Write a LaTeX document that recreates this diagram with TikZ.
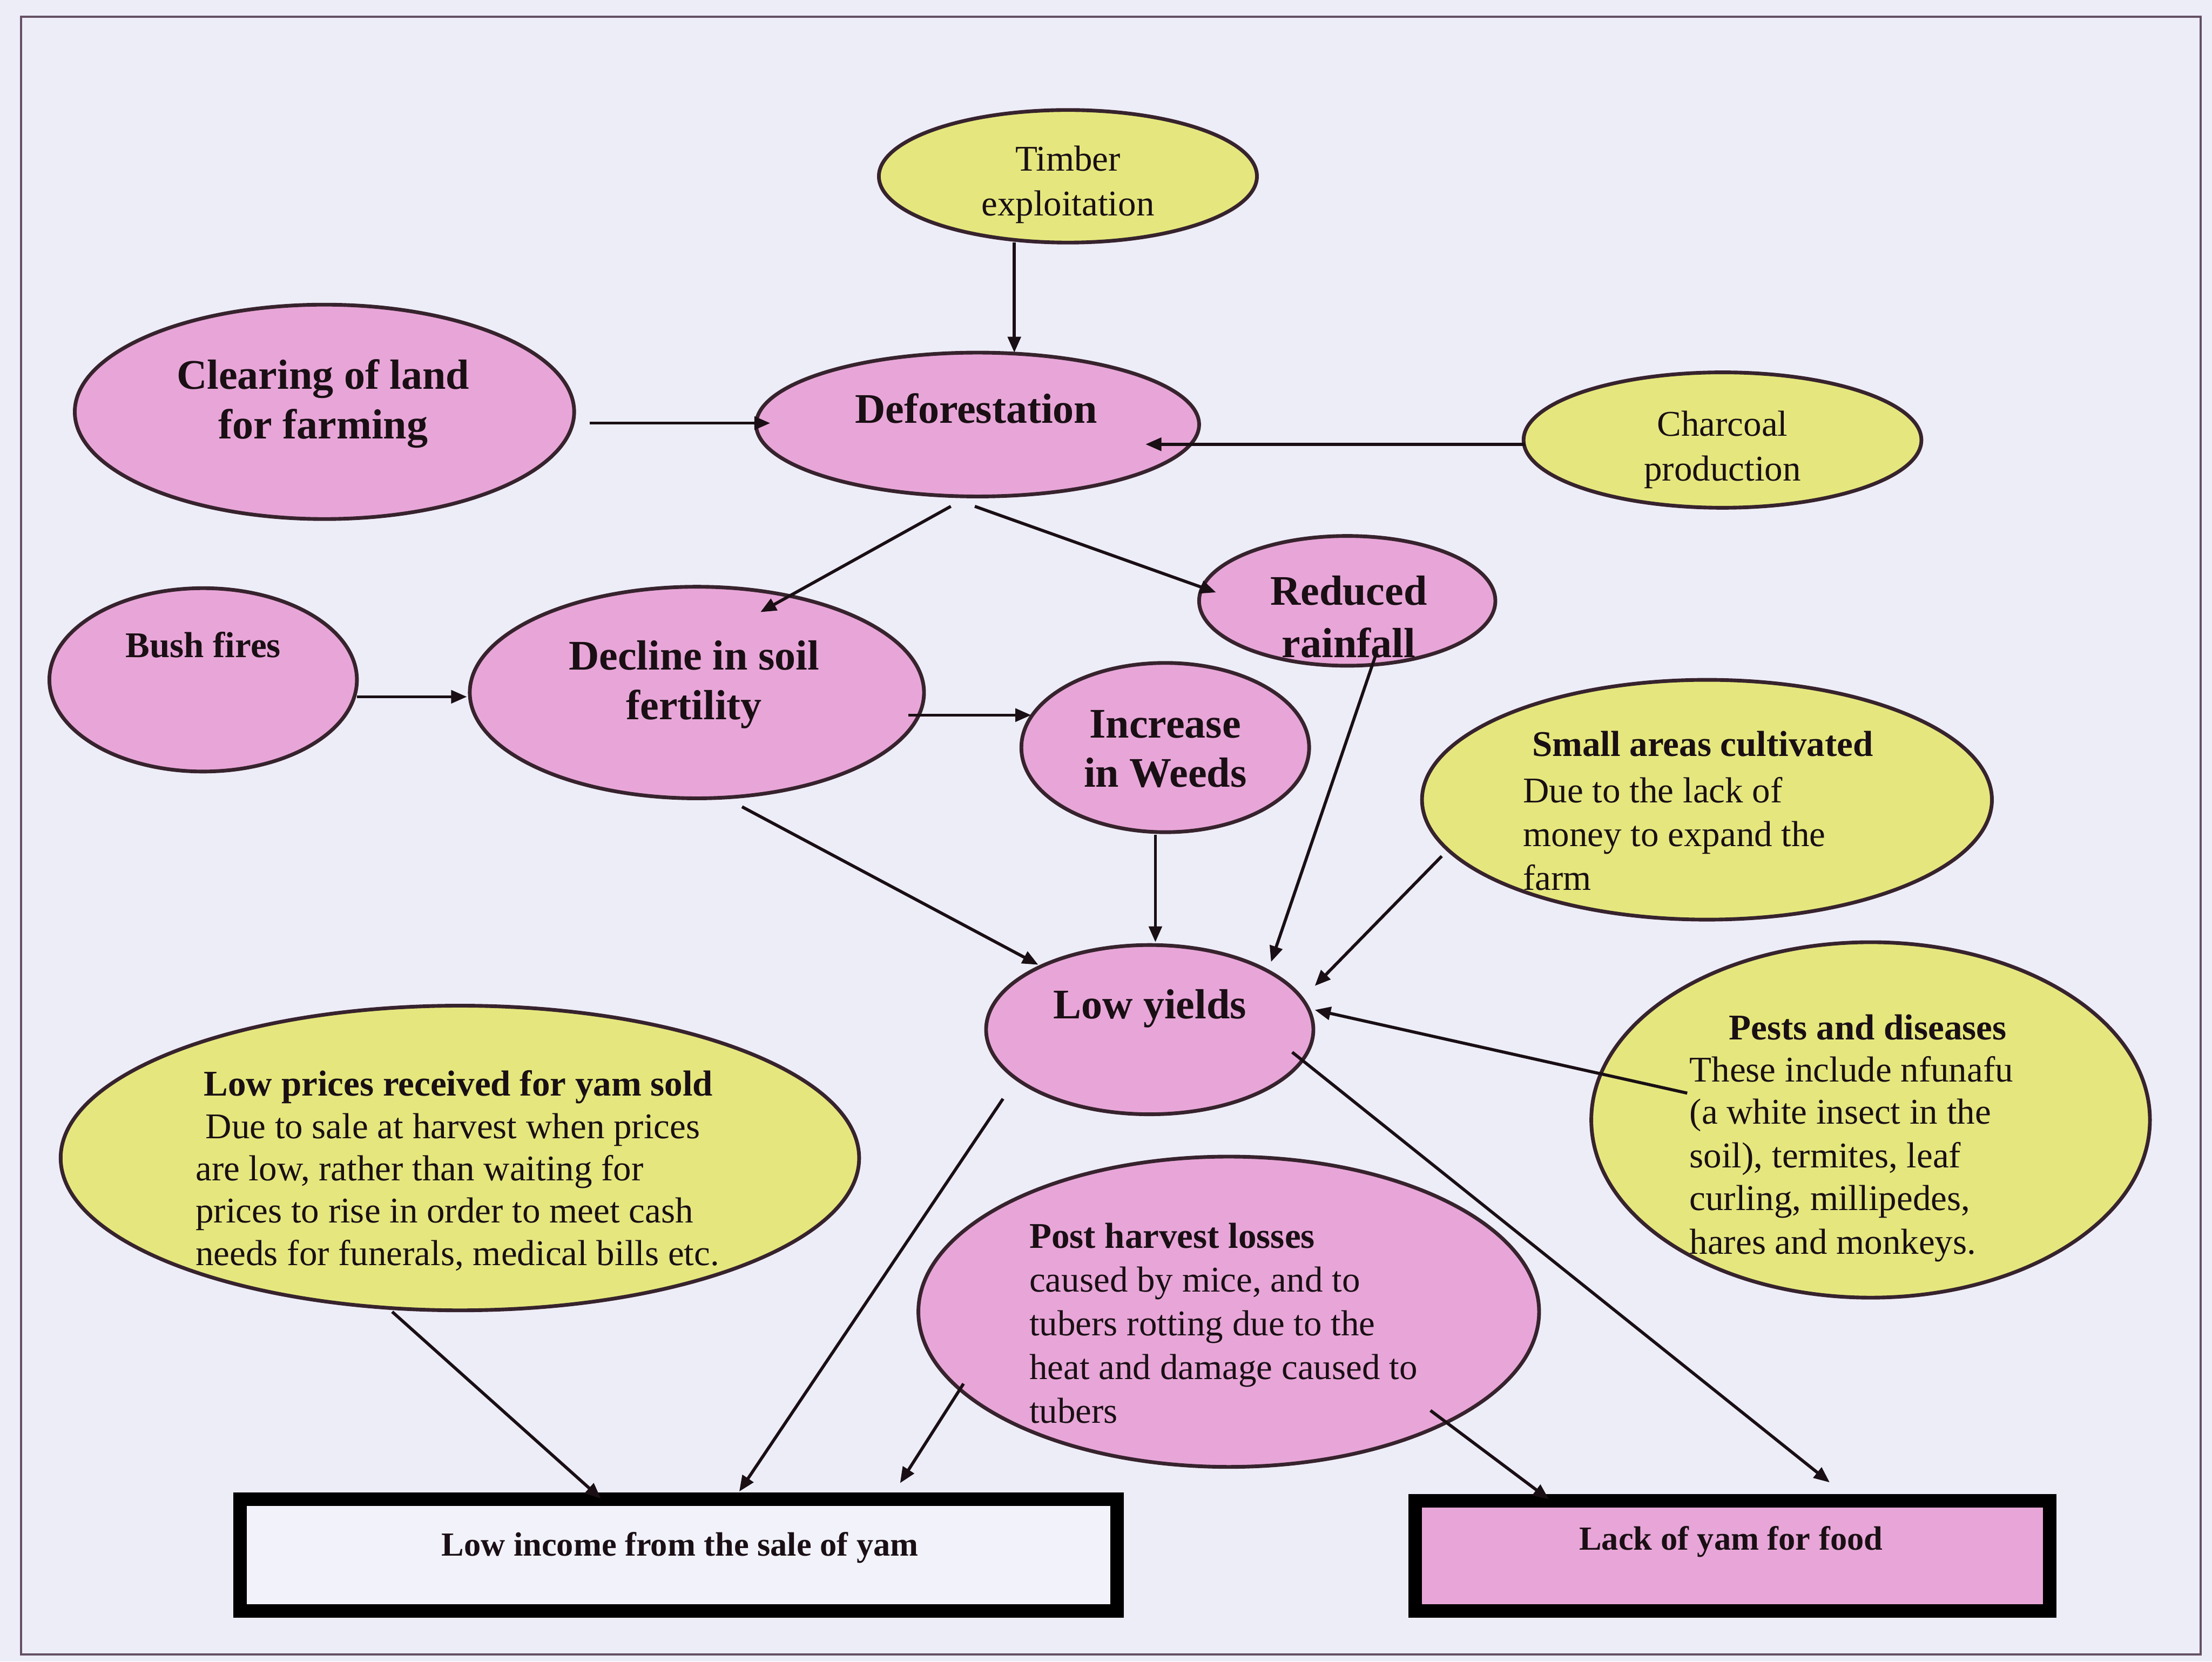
\documentclass[tikz,border=0pt]{standalone}
\usepackage{fontspec}
\setmainfont{Liberation Serif}
\usetikzlibrary{shapes.geometric,arrows.meta}

\definecolor{paper}{RGB}{237,237,248}
\definecolor{pinkfill}{RGB}{232,166,216}
\definecolor{yellowfill}{RGB}{229,231,126}
\definecolor{edge}{RGB}{55,35,45}
\definecolor{ink}{RGB}{25,15,20}
\definecolor{framecol}{RGB}{100,80,100}
\definecolor{boxwhite}{RGB}{242,242,250}

\tikzset{
  oval/.style 2 args={ellipse, draw=edge, line width=0.75pt, inner sep=0pt,
    minimum width=#1, minimum height=#2},
  pinkoval/.style 2 args={oval={#1}{#2}, fill=pinkfill},
  yellowoval/.style 2 args={oval={#1}{#2}, fill=yellowfill},
  outcome/.style 2 args={rectangle, draw=black, line width=0.95mm, inner sep=0pt,
    minimum width=#1, minimum height=#2},
  txt/.style={inner sep=0pt, text=ink},
  link/.style={draw=ink, line width=0.62pt, -{Triangle[length=3.2pt,width=2.6pt]}},
  bigb/.style={font=\fontsize{8.5}{10}\selectfont\bfseries},
  smallb/.style={font=\fontsize{7.3}{8.8}\selectfont\bfseries},
  smallr/.style={font=\fontsize{7.3}{8.8}\selectfont},
  boxb/.style={font=\fontsize{6.8}{8}\selectfont\bfseries},
}

\begin{document}
\begin{tikzpicture}[x=0.1mm,y=-0.1mm]
% page and frame
\fill[paper] (0,0) rectangle (1568,1178);
\useasboundingbox (0,0) rectangle (1568,1178);
\draw[framecol, line width=0.15mm] (15,12) rectangle (1560,1173);

% causes and effects
\node[yellowoval={26.8mm}{9.4mm}] (tim) at (757,125) {};
\node[pinkoval={35.4mm}{15.2mm}] (clr) at (230,292) {};
\node[pinkoval={31.4mm}{10.2mm}] (def) at (693,301) {};
\node[yellowoval={28.2mm}{9.6mm}] (chr) at (1221,312) {};
\node[pinkoval={21.0mm}{9.2mm}] (rain) at (955,426) {};
\node[pinkoval={21.8mm}{13.0mm}] (bush) at (144,482) {};
\node[pinkoval={32.2mm}{15.0mm}] (dec) at (494,491) {};
\node[pinkoval={20.4mm}{12.0mm}] (wee) at (826,530) {};
\node[yellowoval={40.4mm}{17.0mm}] (sma) at (1210,567) {};
\node[pinkoval={23.2mm}{12.0mm}] (low) at (815,730) {};
\node[yellowoval={39.6mm}{25.2mm}] (pst) at (1326,794) {};
\node[yellowoval={56.6mm}{21.6mm}] (prc) at (326,821) {};
\node[pinkoval={44.0mm}{22.0mm}] (post) at (871,930) {};

% final outcomes
\node[outcome={62.2mm}{7.9mm}, fill=boxwhite] (inc) at (481,1102.5) {};
\node[outcome={45.0mm}{7.8mm}, fill=pinkfill] (lack) at (1228,1103) {};

% connectors
\draw[link] ([shift={(-38,47)}]tim.center) -- ([shift={(26,-51)}]def.center);
\draw[link] ([shift={(188,8)}]clr.center) -- ([shift={(-147,-1)}]def.center);
\draw[link] ([shift={(-140,3)}]chr.center) -- ([shift={(119,14)}]def.center);
\draw[link] ([shift={(-19,58)}]def.center) -- ([shift={(45,-57)}]dec.center);
\draw[link] ([shift={(-2,58)}]def.center) -- ([shift={(-93,-6)}]rain.center);
\draw[link] ([shift={(109,12)}]bush.center) -- ([shift={(-163,3)}]dec.center);
\draw[link] ([shift={(150,16)}]dec.center) -- ([shift={(-95,-23)}]wee.center);
\draw[link] ([shift={(32,81)}]dec.center) -- ([shift={(-79,-46)}]low.center);
\draw[link] ([shift={(-7,62)}]wee.center) -- ([shift={(4,-62)}]low.center);
\draw[link] ([shift={(20,39)}]rain.center) -- ([shift={(86,-48)}]low.center);
\draw[link] ([shift={(-188,40)}]sma.center) -- ([shift={(117,-31)}]low.center);
\draw[link] ([shift={(-130,-19)}]pst.center) -- ([shift={(117,-14)}]low.center);
\draw[link] ([shift={(101,16)}]low.center) -- ([shift={(69,-52)}]lack.center);
\draw[link] ([shift={(-104,49)}]low.center) -- ([shift={(43,-45)}]inc.center);
\draw[link] ([shift={(-48,109)}]prc.center) -- ([shift={(-55,-40)}]inc.center);
\draw[link] ([shift={(-188,51)}]post.center) -- ([shift={(157,-51)}]inc.center);
\draw[link] ([shift={(143,70)}]post.center) -- ([shift={(-130,-40)}]lack.center);

% labels
\node[txt,smallr,anchor=base] (timA) at (757,121) {Timber};
\node[txt,smallr,anchor=base] (timB) at (757,153) {exploitation};

\node[txt,bigb,anchor=base] (clrA) at (229,276) {Clearing of land};
\node[txt,bigb,anchor=base] (clrB) at (229,311) {for farming};

\node[txt,bigb,anchor=base] (defA) at (692,300) {Deforestation};

\node[txt,smallr,anchor=base] (chrA) at (1221,309) {Charcoal};
\node[txt,smallr,anchor=base] (chrB) at (1221,341) {production};

\node[txt,bigb,anchor=base] (rainA) at (956,429) {Reduced};
\node[txt,bigb,anchor=base] (rainB) at (956,466) {rainfall};

\node[txt,smallb,anchor=base] (bushA) at (144,466) {Bush fires};

\node[txt,bigb,anchor=base] (decA) at (492,475) {Decline in soil};
\node[txt,bigb,anchor=base] (decB) at (492,510) {fertility};

\node[txt,bigb,anchor=base] (weeA) at (826,523) {Increase};
\node[txt,bigb,anchor=base] (weeB) at (826,558) {in Weeds};

\node[txt,smallb,anchor=base] (smaA) at (1207,536) {Small areas cultivated};
\node[txt,smallr,anchor=base west] (smaB) at (1079,569) {Due to the lack of};
\node[txt,smallr,anchor=base west] (smaC) at (1079,600) {money to expand the};
\node[txt,smallr,anchor=base west] (smaD) at (1079,631) {farm};

\node[txt,bigb,anchor=base] (lowA) at (815,722) {Low yields};

\node[txt,smallb,anchor=base] (pstA) at (1324,737) {Pests and diseases};
\node[txt,smallr,anchor=base west] (pstB) at (1197,767) {These include nfunafu};
\node[txt,smallr,anchor=base west] (pstC) at (1197,797) {(a white insect in the};
\node[txt,smallr,anchor=base west] (pstD) at (1197,828) {soil), termites, leaf};
\node[txt,smallr,anchor=base west] (pstE) at (1197,858) {curling, millipedes,};
\node[txt,smallr,anchor=base west] (pstF) at (1197,889) {hares and monkeys.};

\node[txt,smallb,anchor=base] (prcA) at (325,777) {Low prices received for yam sold};
\node[txt,smallr,anchor=base west] (prcB) at (145,807) {Due to sale at harvest when prices};
\node[txt,smallr,anchor=base west] (prcC) at (138,837) {are low, rather than waiting for};
\node[txt,smallr,anchor=base west] (prcD) at (138,867) {prices to rise in order to meet cash};
\node[txt,smallr,anchor=base west] (prcE) at (138,897) {needs for funerals, medical bills etc.};

\node[txt,smallb,anchor=base west] (postA) at (729,885) {Post harvest losses};
\node[txt,smallr,anchor=base west] (postB) at (729,916) {caused by mice, and to};
\node[txt,smallr,anchor=base west] (postC) at (729,947) {tubers rotting due to the};
\node[txt,smallr,anchor=base west] (postD) at (729,978) {heat and damage caused to};
\node[txt,smallr,anchor=base west] (postE) at (729,1009) {tubers};

\node[txt,boxb,anchor=base] (incA) at (482,1103) {Low income from the sale of yam};
\node[txt,boxb,anchor=base] (lackA) at (1227,1099) {Lack of yam for food};
\end{tikzpicture}
\end{document}
